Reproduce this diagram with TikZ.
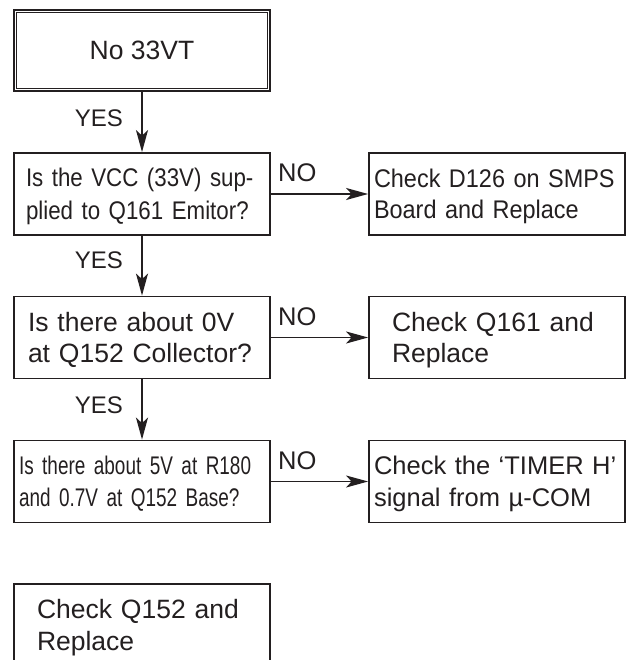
\documentclass[tikz,border=0pt]{standalone}
\usepackage{fontspec}
\setmainfont{Liberation Sans}
\newfontfamily\narrowA[FakeStretch=0.875]{Liberation Sans}
\newfontfamily\narrowB[FakeStretch=0.92]{Liberation Sans}
\newfontfamily\narrowC[FakeStretch=0.743]{Liberation Sans}
\usetikzlibrary{arrows.meta}
\definecolor{ink}{RGB}{35,31,32}

\begin{document}
\begin{tikzpicture}[x=1pt,y=-1pt,
  box/.style={draw=ink, line width=1.8pt, rectangle, text=ink,
    minimum height=82pt, align=left},
  % two text lines: fixed first-line height, depth = one line step
  twolines/.style={text height=18.5pt, text depth=#1},
  bigtext/.style={font=\fontsize{26.5}{31}\selectfont},
  midtext/.style={font=\fontsize{25.5}{32}\selectfont},
  arr/.style={draw=ink, line width=1.8pt,
    -{Stealth[length=22pt,width=12pt,inset=5.5pt]}},
  lbl/.style={text=ink, inner sep=0pt},
  nolbl/.style={lbl, anchor=base west, font=\fontsize{25.5}{30}\selectfont},
  yeslbl/.style={lbl, anchor=base east, font=\fontsize{24}{30}\selectfont}
]
\useasboundingbox (0,0) rectangle (634,660);
\clip (0,0) rectangle (634,660);

% start box with a double frame
\node[box, bigtext, align=center, line width=2.3pt, minimum width=256pt,
  minimum height=81pt, text height=18.5pt, text depth=0pt]
  (start) at (142,50.5) {No 33VT};
\draw[ink, line width=0.9pt]
  ([xshift=3.8pt,yshift=-3.8pt]start.north west) rectangle
  ([xshift=-3.8pt,yshift=3.8pt]start.south east);

% questions
\node[box, twolines=33pt, inner xsep=12pt, text width=232pt,
  font=\narrowA\fontsize{25.5}{33}\selectfont] (q1) at (142,194)
  {Is the VCC (33V) sup-\\plied to Q161 Emitor?};
\node[box, twolines=31pt, bigtext, inner xsep=14pt, text width=228pt]
  (q2) at (142,337.5)
  {Is there about 0V\\at Q152 Collector?};
\node[box, twolines=32pt, inner xsep=5pt, text width=246pt,
  font=\narrowC\fontsize{25.5}{32}\selectfont] (q3) at (142,481.5)
  {Is there about 5V at R180\\and 0.7V at Q152 Base?};

% actions
\node[box, twolines=31pt, inner xsep=5pt, text width=246pt,
  font=\narrowB\fontsize{25.5}{31}\selectfont] (r1) at (497,194)
  {Check D126 on SMPS\\Board and Replace};
\node[box, twolines=31pt, bigtext, inner xsep=23pt, text width=210pt]
  (r2) at (497,337.5)
  {Check Q161 and\\Replace};
\node[box, twolines=32pt, midtext, inner xsep=5pt, text width=246pt]
  (r3) at (497,481.5)
  {Check the ‘TIMER H’\\signal from µ-COM};
\node[box, twolines=32pt, font=\fontsize{26.5}{32}\selectfont,
  inner xsep=23pt, text width=210pt] (fix) at (142,625)
  {Check Q152 and\\Replace};

% connectors
\draw[arr] (start) -- (q1);
\draw[arr] (q1) -- (q2);
\draw[arr] (q2) -- (q3);
\draw[arr] (q1) -- (r1);
\draw[arr] (q2) -- (r2);
\draw[arr] (q3) -- (r3);

% branch labels
\node[yeslbl] (yes0) at ([xshift=-19pt,yshift=-34pt]start.south) {YES};
\node[yeslbl] (yes1) at ([xshift=-19pt,yshift=-32.5pt]q1.south) {YES};
\node[yeslbl] (yes2) at ([xshift=-19pt,yshift=-34pt]q2.south) {YES};
\node[nolbl] (no1) at ([xshift=7pt,yshift=12.5pt]q1.east) {NO};
\node[nolbl] (no2) at ([xshift=7pt,yshift=12.5pt]q2.east) {NO};
\node[nolbl] (no3) at ([xshift=7pt,yshift=12pt]q3.east) {NO};
\end{tikzpicture}
\end{document}
